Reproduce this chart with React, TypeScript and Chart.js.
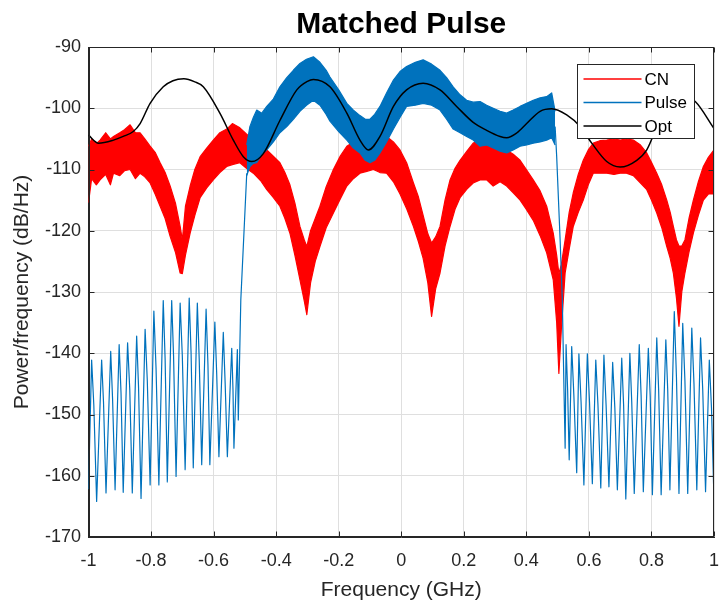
import React, { useEffect, useRef } from 'react';
import { Chart, registerables } from 'chart.js';

Chart.register(...registerables);

// ---------- data ----------
const xTicks = [-1, -0.8, -0.6, -0.4, -0.2, 0, 0.2, 0.4, 0.6, 0.8, 1];
const yTicks = [-170, -160, -150, -140, -130, -120, -110, -100, -90];

const titleText = 'Matched Pulse';
const seriesNames = ['CN', 'Pulse', 'Opt'];
const seriesColors = ['#FF0000', '#0072BD', '#000000'];

// CN: noisy band, upper / lower envelope (dB/Hz) vs frequency (GHz)
const cnFreq = [
  -1.000, -0.990, -0.975, -0.963, -0.945, -0.930, -0.920, -0.900, -0.885, -0.867,
  -0.850, -0.835, -0.820, -0.803, -0.787, -0.771, -0.755, -0.739, -0.722, -0.707,
  -0.700, -0.690, -0.675, -0.660, -0.643, -0.622, -0.601, -0.580, -0.558, -0.540,
  -0.516, -0.495, -0.473, -0.450, -0.430, -0.410, -0.388, -0.372, -0.356, -0.340,
  -0.324, -0.310, -0.302, -0.290, -0.275, -0.260, -0.240, -0.217, -0.195, -0.174,
  -0.153, -0.132, -0.110, -0.089, -0.068, -0.047, -0.025, -0.004, 0.018, 0.039,
  0.055, 0.070, 0.085, 0.097, 0.110, 0.124, 0.140, 0.156, 0.172, 0.188,
  0.210, 0.230, 0.252, 0.273, 0.294, 0.316, 0.337, 0.358, 0.380, 0.400,
  0.422, 0.444, 0.465, 0.486, 0.497, 0.504, 0.512, 0.524, 0.537, 0.550,
  0.566, 0.582, 0.598, 0.614, 0.635, 0.657, 0.680, 0.700, 0.720, 0.742,
  0.765, 0.785, 0.800, 0.817, 0.833, 0.849, 0.860, 0.870, 0.880, 0.888,
  0.897, 0.907, 0.920, 0.934, 0.950, 0.966, 0.982, 1.000,
];
const cnUpper = [
  -106.2, -105.0, -105.8, -105.2, -104.0, -105.0, -104.6, -104.0, -103.5, -102.7,
  -104.0, -104.0, -105.0, -106.2, -107.2, -108.9, -110.5, -112.7, -115.5, -119.3,
  -121.5, -116.0, -112.7, -110.0, -107.9, -106.5, -105.2, -104.0, -103.4, -102.5,
  -103.2, -104.2, -105.2, -106.0, -106.8, -107.8, -108.9, -110.5, -112.5, -115.5,
  -119.3, -121.5, -122.6, -120.0, -118.0, -116.0, -112.8, -110.0, -107.8, -106.2,
  -105.5, -105.2, -104.8, -104.6, -104.4, -104.6, -105.5, -106.8, -109.0, -112.2,
  -114.5, -117.5, -120.5, -122.0, -121.0, -119.3, -115.0, -111.7, -109.8, -108.5,
  -107.0, -105.7, -105.2, -105.2, -105.7, -106.2, -106.8, -107.5, -108.5, -110.0,
  -111.7, -113.5, -116.0, -120.4, -124.0, -127.0, -125.5, -121.5, -117.0, -113.8,
  -110.8, -108.5, -106.8, -105.7, -105.3, -105.2, -105.0, -105.2, -105.0, -105.2,
  -106.0, -107.3, -108.8, -110.6, -112.5, -115.0, -117.0, -119.3, -121.5, -122.5,
  -122.5, -121.5, -118.0, -115.0, -112.0, -109.5, -108.0, -106.8,
];
const cnLower = [
  -115.4, -111.5, -112.5, -111.7, -110.8, -112.5, -110.6, -111.0, -110.2, -110.0,
  -111.5, -110.6, -111.2, -112.2, -114.0, -116.0, -118.0, -120.9, -123.5, -126.9,
  -127.0, -124.0, -120.4, -117.5, -114.6, -113.0, -111.7, -110.5, -109.5, -109.2,
  -108.9, -109.8, -110.6, -111.8, -113.3, -114.5, -116.0, -118.0, -120.4, -124.0,
  -128.0, -131.5, -133.7, -128.5, -125.0, -122.6, -119.5, -117.1, -114.8, -112.7,
  -111.5, -110.6, -110.3, -110.0, -110.5, -110.6, -112.0, -114.0, -116.5, -119.3,
  -121.8, -124.5, -128.5, -134.0, -129.5, -126.9, -122.5, -119.3, -116.5, -114.6,
  -113.2, -112.2, -111.7, -111.7, -112.7, -112.0, -112.7, -113.8, -115.0, -116.5,
  -118.3, -120.8, -123.6, -128.0, -135.0, -143.3, -136.0, -126.9, -123.0, -119.3,
  -117.0, -115.0, -112.5, -110.6, -110.6, -110.6, -110.8, -110.6, -110.6, -111.0,
  -112.2, -113.3, -115.0, -117.1, -119.5, -122.6, -124.5, -126.9, -131.0, -135.6,
  -130.0, -126.9, -123.5, -120.4, -117.5, -115.0, -114.0, -114.0,
];

// Pulse: in-band noisy band (top / bottom envelope)
const pulseBandFreq = [
  -0.494, -0.484, -0.473, -0.462, -0.446, -0.430, -0.409, -0.388, -0.366, -0.345,
  -0.324, -0.303, -0.281, -0.260, -0.240, -0.228, -0.200, -0.174, -0.153, -0.132,
  -0.115, -0.100, -0.085, -0.068, -0.047, -0.025, -0.004, 0.017, 0.045, 0.070,
  0.097, 0.124, 0.145, 0.166, 0.188, 0.209, 0.230, 0.252, 0.273, 0.294,
  0.316, 0.337, 0.358, 0.380, 0.401, 0.422, 0.444, 0.465, 0.481, 0.492,
];
const pulseBandTop = [
  -106.0, -103.0, -101.5, -100.3, -100.8, -99.7, -98.5, -96.5, -95.0, -93.8,
  -92.7, -92.0, -91.6, -92.5, -93.8, -94.9, -97.0, -99.2, -100.3, -101.2,
  -101.8, -101.8, -101.0, -99.7, -97.5, -95.4, -94.0, -93.2, -92.5, -92.1,
  -92.8, -93.8, -95.0, -96.5, -97.8, -98.7, -99.0, -98.9, -99.5, -100.0,
  -100.5, -100.8, -100.3, -99.7, -99.2, -98.7, -98.3, -98.1, -97.5, -100.5,
];
const pulseBandBottom = [
  -111.0, -109.5, -109.0, -108.9, -107.5, -106.8, -105.5, -104.0, -103.0, -101.8,
  -100.5, -99.5, -98.7, -99.5, -101.0, -102.1, -103.8, -105.2, -106.5, -107.3,
  -108.5, -108.9, -108.5, -107.3, -105.5, -103.4, -101.5, -99.7, -99.5, -99.2,
  -99.5, -100.3, -101.8, -103.4, -104.0, -104.6, -105.2, -106.2, -106.0, -106.5,
  -107.0, -107.3, -106.8, -106.2, -106.0, -105.7, -105.5, -105.2, -104.8, -106.0,
];

// Pulse: out-of-band lobes, left side (trough, peak, shoulder, ...) into the band edge
const pulseLeftFreq = [
  -1.000, -0.990, -0.983, -0.974, -0.958, -0.952, -0.944, -0.929, -0.923, -0.915,
  -0.902, -0.896, -0.889, -0.875, -0.868, -0.860, -0.846, -0.840, -0.832, -0.819,
  -0.812, -0.803, -0.791, -0.784, -0.775, -0.761, -0.755, -0.748, -0.734, -0.728,
  -0.720, -0.707, -0.700, -0.691, -0.678, -0.672, -0.665, -0.652, -0.646, -0.638,
  -0.624, -0.618, -0.612, -0.596, -0.590, -0.583, -0.569, -0.563, -0.556, -0.542,
  -0.538, -0.535, -0.524, -0.521, -0.513, -0.494,
];
const pulseLeftVal = [
  -162.2, -141.1, -148.5, -164.2, -141.1, -148.0, -162.8, -139.7, -147.5, -162.3,
  -138.6, -146.5, -162.7, -138.3, -146.0, -162.8, -137.2, -145.5, -163.7, -136.1,
  -144.5, -161.5, -133.1, -142.5, -161.5, -131.4, -141.0, -161.0, -131.4, -140.5,
  -160.1, -131.8, -140.5, -159.0, -131.0, -140.0, -158.7, -131.8, -141.0, -158.2,
  -132.8, -142.0, -158.2, -134.9, -143.5, -156.9, -136.6, -145.0, -156.9, -139.2,
  -146.0, -155.5, -139.4, -150.9, -131.3, -110.6,
];

// Pulse: band edge drop and out-of-band lobes, right side
const pulseRightFreq = [
  0.492, 0.497, 0.508, 0.515, 0.520, 0.524, 0.527, 0.532, 0.537, 0.545,
  0.552, 0.561, 0.568, 0.575, 0.584, 0.595, 0.602, 0.611, 0.622, 0.629,
  0.638, 0.648, 0.655, 0.664, 0.676, 0.683, 0.691, 0.705, 0.711, 0.718,
  0.731, 0.737, 0.745, 0.761, 0.767, 0.774, 0.790, 0.796, 0.803, 0.817,
  0.823, 0.831, 0.846, 0.852, 0.859, 0.873, 0.880, 0.888, 0.900, 0.907,
  0.916, 0.929, 0.936, 0.945, 0.957, 0.964, 0.973, 0.985, 0.992, 1.000,
];
const pulseRightVal = [
  -103.0, -107.9, -121.5, -131.3, -145.0, -155.5, -138.6, -146.0, -157.4, -138.9,
  -147.0, -159.5, -140.1, -148.0, -161.5, -140.1, -148.0, -161.3, -141.1, -148.5,
  -162.0, -140.3, -148.5, -161.8, -141.5, -149.0, -162.3, -140.8, -148.5, -163.8,
  -140.0, -148.0, -162.9, -138.6, -147.0, -162.6, -139.2, -147.0, -163.1, -137.5,
  -146.0, -163.1, -137.8, -146.0, -162.3, -133.2, -144.0, -162.9, -135.1, -144.5,
  -162.9, -135.9, -145.0, -162.3, -137.5, -146.0, -162.6, -141.1, -149.0, -164.0,
];

// Opt: smooth curve
const optFreq = [
  -1.000, -0.968, -0.920, -0.889, -0.857, -0.835, -0.803, -0.761, -0.730, -0.695,
  -0.660, -0.633, -0.580, -0.537, -0.505, -0.478, -0.441, -0.388, -0.334, -0.300,
  -0.281, -0.228, -0.174, -0.132, -0.105, -0.068, -0.025, 0.017, 0.070, 0.124,
  0.177, 0.230, 0.273, 0.316, 0.337, 0.370, 0.401, 0.444, 0.481, 0.529,
  0.572, 0.609, 0.657, 0.700, 0.753, 0.785, 0.830, 0.880, 0.940, 1.000,
];
const optVal = [
  -104.4, -105.7, -105.2, -104.6, -103.8, -102.5, -99.2, -96.5, -95.5, -95.2,
  -95.7, -96.5, -100.8, -105.2, -107.9, -108.7, -107.4, -102.0, -97.0, -95.6,
  -95.3, -96.5, -100.8, -105.2, -106.8, -104.6, -99.7, -97.0, -95.9, -97.0,
  -99.7, -102.3, -103.6, -104.6, -104.8, -104.0, -102.5, -100.5, -100.1, -101.1,
  -103.0, -105.7, -108.7, -109.6, -108.5, -106.8, -101.5, -97.5, -98.9, -103.3,
];

// ---------- helpers ----------
const pts = (xs: number[], ys: number[]) => xs.map((x, i) => ({ x, y: ys[i] }));
const FONT = '"Liberation Sans", Arial, Helvetica, sans-serif';
const AXIS = '#262626';

const framePlugin = {
  id: 'matlabFrame',
  afterDraw(chart: any) {
    const { ctx, chartArea: a, scales } = chart;
    const L = Math.round(a.left) + 0.5;
    const R = Math.round(a.right) - 0.5;
    const T = Math.round(a.top) + 0.5;
    const B = Math.round(a.bottom) - 0.5;
    ctx.save();
    ctx.strokeStyle = AXIS;
    ctx.lineWidth = 1;
    // inner tick marks
    ctx.beginPath();
    xTicks.forEach((v) => {
      const px = Math.round(scales.x.getPixelForValue(v)) + 0.5;
      ctx.moveTo(px, B); ctx.lineTo(px, B - 5);
      ctx.moveTo(px, T); ctx.lineTo(px, T + 5);
    });
    yTicks.forEach((v) => {
      const py = Math.round(scales.y.getPixelForValue(v)) + 0.5;
      ctx.moveTo(L, py); ctx.lineTo(L + 5, py);
      ctx.moveTo(R, py); ctx.lineTo(R - 5, py);
    });
    ctx.stroke();
    // box
    ctx.strokeRect(L, T, R - L, B - T);

    // title, centred over the plot area
    ctx.fillStyle = '#000000';
    ctx.font = `bold 30px ${FONT}`;
    ctx.textAlign = 'center';
    ctx.textBaseline = 'alphabetic';
    ctx.fillText(titleText, (a.left + a.right) / 2, 33);

    // legend (inside, upper right)
    const bx = Math.round(a.right - 137) + 0.5;
    const by = Math.round(a.top + 17) + 0.5;
    const bw = 117;
    const bh = 74;
    ctx.fillStyle = '#ffffff';
    ctx.fillRect(bx, by, bw, bh);
    ctx.strokeStyle = AXIS;
    ctx.strokeRect(bx, by, bw, bh);
    ctx.font = `17px ${FONT}`;
    ctx.textBaseline = 'middle';
    ctx.textAlign = 'left';
    seriesNames.forEach((name, i) => {
      const y = by + 14.5 + i * 23.5;
      ctx.strokeStyle = seriesColors[i];
      ctx.lineWidth = 1.5;
      ctx.beginPath();
      ctx.moveTo(bx + 6, y);
      ctx.lineTo(bx + 64, y);
      ctx.stroke();
      ctx.fillStyle = '#000000';
      ctx.fillText(name, bx + 67, y + 1);
    });
    ctx.restore();
  },
};

export default function App() {
  const ref = useRef<HTMLCanvasElement | null>(null);

  useEffect(() => {
    document.body.style.margin = '0';
    const canvas = ref.current;
    if (!canvas) return;

    const line = (data: any, color: string, extra: any = {}) => ({
      data,
      borderColor: color,
      backgroundColor: color,
      borderWidth: 1.2,
      pointRadius: 0,
      tension: 0,
      fill: false,
      borderJoinStyle: 'round',
      ...extra,
    });

    const chart = new Chart(canvas, {
      type: 'line',
      data: {
        datasets: [
          line(pts(cnFreq, cnUpper), seriesColors[0], { order: 3, label: 'CN' }),
          line(pts(cnFreq, cnLower), seriesColors[0], { order: 3, fill: '-1', label: 'CN low' }),
          line(pts(pulseBandFreq, pulseBandTop), seriesColors[1], { order: 2, label: 'Pulse' }),
          line(pts(pulseBandFreq, pulseBandBottom), seriesColors[1], { order: 2, fill: '-1', label: 'Pulse low' }),
          line(pts(pulseLeftFreq, pulseLeftVal), seriesColors[1], { order: 2, label: 'Pulse L' }),
          line(pts(pulseRightFreq, pulseRightVal), seriesColors[1], { order: 2, label: 'Pulse R' }),
          line(pts(optFreq, optVal), seriesColors[2], {
            order: 1,
            label: 'Opt',
            borderWidth: 1.5,
            cubicInterpolationMode: 'monotone',
          }),
        ],
      },
      options: {
        responsive: false,
        animation: false,
        events: [],
        layout: { padding: { left: 0, right: 5, top: 47, bottom: 0 } },
        plugins: {
          legend: { display: false },
          tooltip: { enabled: false },
          title: { display: false },
        },
        scales: {
          x: {
            type: 'linear',
            min: -1,
            max: 1,
            afterBuildTicks: (s: any) => { s.ticks = xTicks.map((v) => ({ value: v })); },
            afterFit: (s: any) => { s.height = 69; s.paddingLeft = 0; s.paddingRight = 0; },
            ticks: {
              color: AXIS,
              font: { family: FONT, size: 18 },
              padding: 13,
              maxRotation: 0,
              autoSkip: false,
              callback: (v: any) => String(v),
            },
            grid: { color: '#dfdfdf', lineWidth: 1, drawTicks: false },
            border: { display: true, color: AXIS },
            title: {
              display: true,
              text: 'Frequency (GHz)',
              color: AXIS,
              font: { family: FONT, size: 21, lineHeight: 1.2 },
              padding: { top: 0, bottom: 3.4 },
            },
          },
          y: {
            type: 'linear',
            min: -170,
            max: -90,
            afterBuildTicks: (s: any) => { s.ticks = yTicks.map((v) => ({ value: v })); },
            afterFit: (s: any) => { s.width = 88.5; s.paddingTop = 0; s.paddingBottom = 0; },
            ticks: {
              color: AXIS,
              font: { family: FONT, size: 18 },
              padding: 7.5,
              autoSkip: false,
              callback: (v: any) => String(v),
            },
            grid: { color: '#dfdfdf', lineWidth: 1, drawTicks: false },
            border: { display: true, color: AXIS },
            title: {
              display: true,
              text: 'Power/frequency (dB/Hz)',
              color: AXIS,
              font: { family: FONT, size: 21, lineHeight: 1.2 },
              padding: { top: 9.4, bottom: 0 },
            },
          },
        },
      },
      plugins: [framePlugin],
    } as any);

    return () => chart.destroy();
  }, []);

  return (
    <div style={{ width: 719, height: 606 }}>
      <canvas ref={ref} width={719} height={606} style={{ display: 'block', width: 719, height: 606 }} />
    </div>
  );
}
